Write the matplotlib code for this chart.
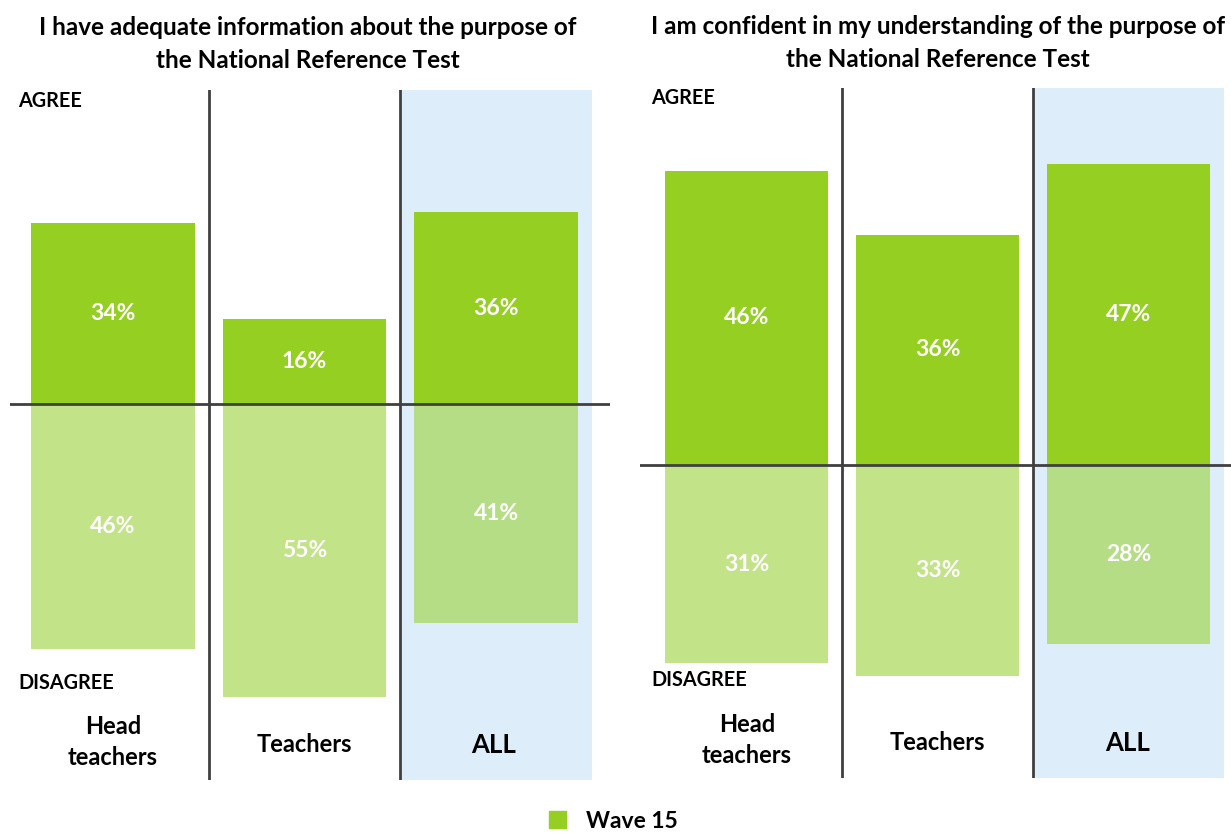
import matplotlib.pyplot as plt
from matplotlib.patches import Patch

plt.rcParams['font.family'] = ['Lato', 'DejaVu Sans']

# Data
groups = ['Head\nteachers', 'Teachers', 'ALL']
titles = ['I have adequate information about the purpose of\nthe National Reference Test',
          'I am confident in my understanding of the purpose of\nthe National Reference Test']
agree = [[34, 16, 36], [46, 36, 47]]
disagree = [[46, 55, 41], [31, 33, 28]]

W, H = 1231, 834
AGREE_C = '#94CF22'
DIS_C = ['#C3E389', '#C3E389', '#B5DD86']
BLUE = '#DDEEFA'
LINE = '#404040'

fig = plt.figure(figsize=(W / 100, H / 100), dpi=100)


def fx(x):
    return x / W


def fy(y):
    return 1 - y / H


# panel layout: axes pixel box, y limits, x limits, title centre
panels = [
    dict(box=(10, 90, 610, 780), ylim=(-70.5, 58.9), xlim=(-0.538, 2.595), tx=308, lx=18, ay=101, dy=683,
         cat_y=[742, 745, 745], cat_x=[113, 304, 494], title_y=44),
    dict(box=(640, 88, 1231, 778), ylim=(-48.9, 58.9), xlim=(-0.558, 2.537), tx=938, lx=651, ay=98, dy=680,
         cat_y=[740, 743, 743], cat_x=[747, 937, 1128], title_y=43),
]

for i, p in enumerate(panels):
    x0, y0, x1, y1 = p['box']
    ax = fig.add_axes([fx(x0), fy(y1), fx(x1 - x0), (y1 - y0) / H])
    ax.set_xlim(*p['xlim'])
    ax.set_ylim(*p['ylim'])
    ax.axis('off')

    ax.axvspan(1.5, 2.5, color=BLUE, zorder=0, lw=0)
    pos = list(range(len(groups)))
    ax.bar(pos, agree[i], width=0.855, color=AGREE_C, zorder=1)
    ax.bar(pos, [-v for v in disagree[i]], width=0.855, color=DIS_C, zorder=1)
    for x, a, d in zip(pos, agree[i], disagree[i]):
        ax.text(x, a / 2, f'{a}%', color='white', ha='center', va='center',
                fontsize=16.5, fontweight='bold', zorder=3)
        ax.text(x, -d / 2, f'{d}%', color='white', ha='center', va='center',
                fontsize=16.5, fontweight='bold', zorder=3)
    for xv in (0.5, 1.5):
        ax.axvline(xv, color=LINE, lw=2, zorder=2)
    ax.axhline(0, color=LINE, lw=2, zorder=2)

    fig.text(fx(p['tx']), fy(p['title_y']), titles[i], ha='center', va='center',
             fontsize=17.5, fontweight='bold', linespacing=1.5)
    fig.text(fx(p['lx']), fy(p['ay']), 'AGREE', ha='left', va='center', fontsize=14.3, fontweight='bold')
    fig.text(fx(p['lx']), fy(p['dy']), 'DISAGREE', ha='left', va='center', fontsize=14.3, fontweight='bold')
    for g, cx, cy in zip(groups, p['cat_x'], p['cat_y']):
        fig.text(fx(cx), fy(cy), g, ha='center', va='center', fontweight='bold',
                 fontsize=18.5 if g == 'ALL' else 17, linespacing=1.47)

fig.legend(handles=[Patch(color=AGREE_C, label='Wave 15')], loc='center left',
           bbox_to_anchor=(fx(540), fy(821)), frameon=False, handlelength=0.75, handleheight=0.75,
           handletextpad=0.87, borderaxespad=0.2, borderpad=0.2, prop={'size': 16.5, 'weight': 'bold'})

fig.savefig('out.png', dpi=100)
